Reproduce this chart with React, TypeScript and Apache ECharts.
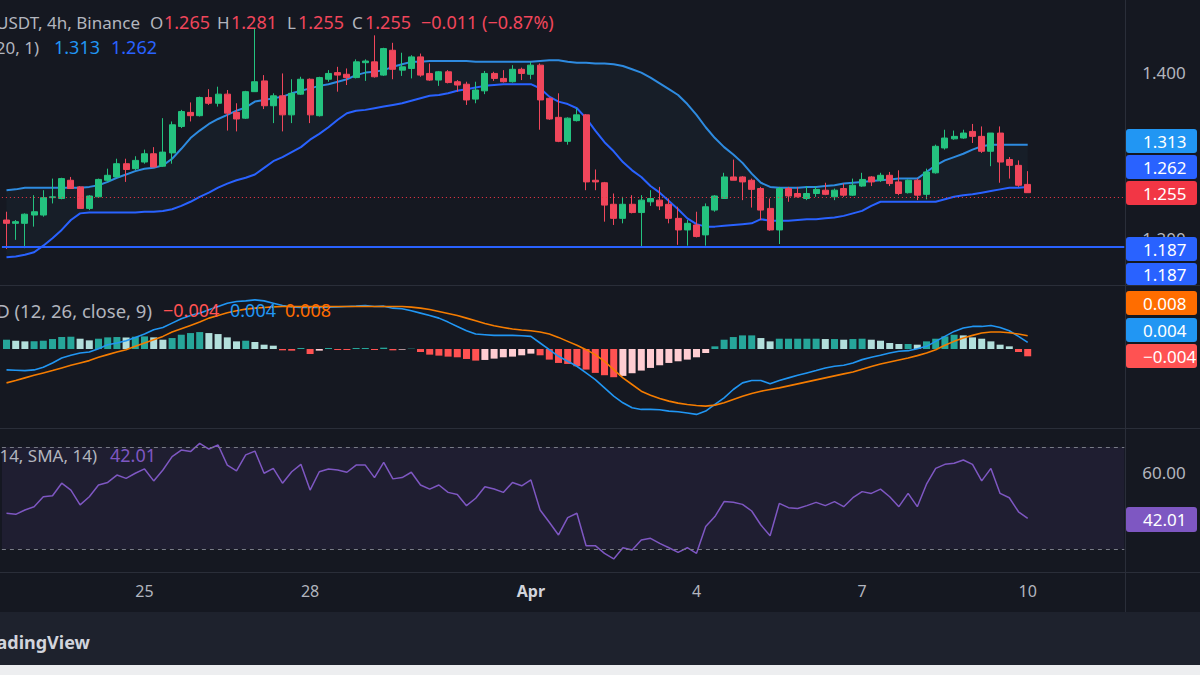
import React, { useEffect, useRef } from "react";
import * as echarts from "echarts";

const FONT = "'Noto Sans', 'DejaVu Sans', sans-serif";

// ---------- price candles (4h) ----------
const opens = [
  1.222, 1.218, 1.218, 1.228, 1.228, 1.249, 1.248, 1.270, 1.262, 1.236,
  1.250, 1.270, 1.274, 1.290, 1.284, 1.292, 1.302, 1.287, 1.303, 1.335,
  1.352, 1.348, 1.370, 1.363, 1.374, 1.352, 1.345, 1.377, 1.390, 1.360,
  1.372, 1.349, 1.374, 1.392, 1.348, 1.392, 1.400, 1.398, 1.394, 1.412,
  1.413, 1.397, 1.427, 1.403, 1.405, 1.419, 1.399, 1.391, 1.401, 1.389,
  1.386, 1.368, 1.378, 1.399, 1.393, 1.389, 1.404, 1.398, 1.409, 1.369,
  1.346, 1.317, 1.342, 1.349, 1.270, 1.267, 1.241, 1.224, 1.241, 1.231,
  1.244, 1.246, 1.241, 1.224, 1.210, 1.216, 1.204, 1.234, 1.248, 1.274,
  1.274, 1.270, 1.260, 1.236, 1.210, 1.260, 1.254, 1.248, 1.254, 1.258,
  1.250, 1.260, 1.252, 1.263, 1.274, 1.270, 1.276, 1.268, 1.255, 1.270,
  1.253, 1.279, 1.309, 1.320, 1.321, 1.329, 1.323, 1.305, 1.327, 1.295, 1.288, 1.265,
];
const highs = [
  1.232, 1.222, 1.230, 1.252, 1.258, 1.272, 1.273, 1.274, 1.263, 1.252,
  1.272, 1.284, 1.296, 1.296, 1.299, 1.307, 1.310, 1.345, 1.341, 1.355,
  1.364, 1.371, 1.380, 1.383, 1.379, 1.363, 1.378, 1.453, 1.397, 1.375,
  1.399, 1.392, 1.395, 1.393, 1.395, 1.403, 1.407, 1.405, 1.416, 1.416,
  1.445, 1.430, 1.436, 1.424, 1.421, 1.423, 1.411, 1.402, 1.403, 1.391,
  1.389, 1.389, 1.402, 1.401, 1.403, 1.409, 1.406, 1.413, 1.411, 1.370,
  1.375, 1.346, 1.357, 1.350, 1.283, 1.268, 1.254, 1.250, 1.252, 1.252,
  1.258, 1.262, 1.248, 1.238, 1.222, 1.232, 1.242, 1.252, 1.279, 1.295,
  1.275, 1.272, 1.262, 1.248, 1.262, 1.262, 1.262, 1.263, 1.263, 1.267,
  1.260, 1.266, 1.272, 1.279, 1.275, 1.279, 1.280, 1.282, 1.271, 1.272,
  1.284, 1.313, 1.331, 1.330, 1.331, 1.338, 1.335, 1.327, 1.335, 1.298, 1.294, 1.281,
];
const lows = [
  1.187, 1.198, 1.188, 1.214, 1.226, 1.242, 1.247, 1.260, 1.236, 1.234,
  1.249, 1.268, 1.274, 1.268, 1.282, 1.290, 1.286, 1.286, 1.290, 1.333,
  1.341, 1.347, 1.361, 1.359, 1.330, 1.329, 1.344, 1.377, 1.356, 1.339,
  1.329, 1.339, 1.373, 1.339, 1.347, 1.389, 1.377, 1.385, 1.393, 1.390,
  1.394, 1.396, 1.392, 1.396, 1.393, 1.395, 1.390, 1.384, 1.387, 1.377,
  1.361, 1.363, 1.374, 1.390, 1.388, 1.388, 1.391, 1.392, 1.331, 1.343,
  1.316, 1.313, 1.341, 1.258, 1.258, 1.220, 1.216, 1.218, 1.230, 1.190,
  1.239, 1.234, 1.218, 1.192, 1.191, 1.201, 1.191, 1.232, 1.248, 1.270,
  1.246, 1.237, 1.222, 1.209, 1.193, 1.244, 1.249, 1.246, 1.250, 1.252,
  1.246, 1.250, 1.251, 1.262, 1.263, 1.268, 1.263, 1.252, 1.254, 1.246,
  1.247, 1.278, 1.307, 1.319, 1.320, 1.315, 1.303, 1.287, 1.267, 1.272, 1.262, 1.255,
];
const closes = [
  1.218, 1.220, 1.229, 1.232, 1.249, 1.250, 1.272, 1.260, 1.236, 1.251,
  1.271, 1.276, 1.290, 1.283, 1.294, 1.302, 1.286, 1.304, 1.337, 1.353,
  1.348, 1.370, 1.363, 1.374, 1.351, 1.344, 1.377, 1.389, 1.360, 1.372,
  1.349, 1.375, 1.392, 1.349, 1.394, 1.399, 1.397, 1.394, 1.413, 1.414,
  1.395, 1.429, 1.404, 1.407, 1.419, 1.397, 1.391, 1.401, 1.388, 1.385,
  1.367, 1.379, 1.399, 1.393, 1.389, 1.404, 1.399, 1.409, 1.367, 1.344,
  1.317, 1.345, 1.349, 1.268, 1.268, 1.240, 1.224, 1.241, 1.231, 1.246,
  1.248, 1.239, 1.224, 1.210, 1.218, 1.202, 1.238, 1.251, 1.274, 1.270,
  1.268, 1.259, 1.234, 1.210, 1.260, 1.251, 1.250, 1.254, 1.259, 1.253,
  1.258, 1.252, 1.264, 1.271, 1.268, 1.276, 1.266, 1.254, 1.270, 1.252,
  1.280, 1.311, 1.321, 1.323, 1.327, 1.323, 1.305, 1.327, 1.292, 1.288, 1.264, 1.255,
];

// ---------- bands ----------
const bandUpper = [
  1.258, 1.259, 1.261, 1.261, 1.261, 1.261, 1.261, 1.261, 1.261, 1.262,
  1.264, 1.268, 1.273, 1.277, 1.281, 1.284, 1.285, 1.288, 1.296, 1.308,
  1.321, 1.330, 1.338, 1.344, 1.349, 1.354, 1.358, 1.365, 1.367, 1.369,
  1.371, 1.375, 1.378, 1.381, 1.384, 1.386, 1.389, 1.392, 1.397, 1.400,
  1.401, 1.403, 1.407, 1.410, 1.413, 1.413, 1.414, 1.414, 1.414, 1.414,
  1.414, 1.413, 1.413, 1.413, 1.413, 1.413, 1.413, 1.413, 1.414, 1.415,
  1.415, 1.413, 1.412, 1.412, 1.411, 1.411, 1.410, 1.408, 1.404, 1.400,
  1.394, 1.387, 1.380, 1.373, 1.362, 1.349, 1.334, 1.321, 1.310, 1.301,
  1.291, 1.278, 1.267, 1.262, 1.261, 1.261, 1.261, 1.262, 1.262, 1.263,
  1.264, 1.266, 1.267, 1.268, 1.269, 1.270, 1.271, 1.272, 1.272, 1.272,
  1.280, 1.288, 1.294, 1.298, 1.302, 1.307, 1.311, 1.313, 1.313, 1.313, 1.313, 1.313,
];
const bandLower = [
  1.177, 1.178, 1.180, 1.183, 1.191, 1.200, 1.210, 1.222, 1.230, 1.231,
  1.231, 1.231, 1.231, 1.231, 1.231, 1.232, 1.232, 1.233, 1.235, 1.239,
  1.244, 1.250, 1.255, 1.261, 1.266, 1.270, 1.273, 1.277, 1.285, 1.293,
  1.298, 1.304, 1.310, 1.319, 1.326, 1.334, 1.343, 1.351, 1.354, 1.355,
  1.357, 1.359, 1.361, 1.363, 1.366, 1.369, 1.372, 1.373, 1.375, 1.378,
  1.380, 1.382, 1.384, 1.385, 1.386, 1.386, 1.386, 1.386, 1.381, 1.371,
  1.365, 1.362, 1.357, 1.345, 1.330, 1.316, 1.305, 1.292, 1.282, 1.274,
  1.263, 1.255, 1.245, 1.235, 1.224, 1.217, 1.214, 1.214, 1.215, 1.216,
  1.217, 1.218, 1.223, 1.221, 1.221, 1.221, 1.222, 1.223, 1.223, 1.224,
  1.225, 1.227, 1.230, 1.233, 1.239, 1.244, 1.244, 1.244, 1.244, 1.244,
  1.244, 1.244, 1.247, 1.250, 1.252, 1.253, 1.255, 1.257, 1.259, 1.261, 1.261, 1.262,
];

// ---------- MACD (12, 26, close, 9) ----------
const macdLine = [
  -0.0126, -0.0128, -0.0130, -0.0126, -0.0110, -0.0084, -0.0054, -0.0038, -0.0024, -0.0018,
  0.0002, 0.0026, 0.0036, 0.0050, 0.0070, 0.0090, 0.0116, 0.0130, 0.0156, 0.0182,
  0.0202, 0.0216, 0.0236, 0.0256, 0.0276, 0.0286, 0.0290, 0.0296, 0.0290, 0.0276,
  0.0262, 0.0254, 0.0250, 0.0250, 0.0250, 0.0252, 0.0254, 0.0256, 0.0258, 0.0262,
  0.0256, 0.0258, 0.0246, 0.0242, 0.0230, 0.0216, 0.0202, 0.0186, 0.0162, 0.0136,
  0.0110, 0.0090, 0.0086, 0.0082, 0.0082, 0.0082, 0.0080, 0.0076, 0.0036, -0.0004,
  -0.0044, -0.0074, -0.0104, -0.0144, -0.0184, -0.0234, -0.0284, -0.0324, -0.0354, -0.0364,
  -0.0364, -0.0366, -0.0374, -0.0378, -0.0386, -0.0394, -0.0374, -0.0334, -0.0294, -0.0244,
  -0.0204, -0.0190, -0.0190, -0.0210, -0.0190, -0.0174, -0.0158, -0.0144, -0.0130, -0.0114,
  -0.0104, -0.0098, -0.0084, -0.0064, -0.0050, -0.0038, -0.0024, -0.0014, -0.0010, 0.0002,
  0.0016, 0.0046, 0.0076, 0.0106, 0.0126, 0.0136, 0.0136, 0.0142, 0.0130, 0.0110, 0.0076, 0.0040,
];
const signalLine = [
  -0.0204, -0.0190, -0.0174, -0.0158, -0.0144, -0.0130, -0.0114, -0.0098, -0.0084, -0.0070,
  -0.0050, -0.0034, -0.0018, -0.0004, 0.0016, 0.0036, 0.0056, 0.0076, 0.0102, 0.0122,
  0.0142, 0.0162, 0.0186, 0.0202, 0.0218, 0.0230, 0.0240, 0.0246, 0.0250, 0.0254,
  0.0256, 0.0256, 0.0256, 0.0256, 0.0256, 0.0256, 0.0256, 0.0256, 0.0256, 0.0256,
  0.0256, 0.0256, 0.0256, 0.0256, 0.0252, 0.0246, 0.0238, 0.0226, 0.0214, 0.0202,
  0.0186, 0.0170, 0.0154, 0.0140, 0.0130, 0.0120, 0.0114, 0.0110, 0.0102, 0.0090,
  0.0070, 0.0046, 0.0022, -0.0004, -0.0034, -0.0074, -0.0124, -0.0174, -0.0214, -0.0254,
  -0.0278, -0.0298, -0.0314, -0.0326, -0.0334, -0.0340, -0.0344, -0.0338, -0.0324, -0.0304,
  -0.0284, -0.0268, -0.0254, -0.0244, -0.0234, -0.0222, -0.0210, -0.0198, -0.0186, -0.0174,
  -0.0162, -0.0150, -0.0138, -0.0122, -0.0106, -0.0090, -0.0078, -0.0066, -0.0054, -0.0040,
  -0.0024, -0.0004, 0.0022, 0.0046, 0.0066, 0.0082, 0.0096, 0.0102, 0.0102, 0.0098, 0.0090, 0.0080,
];
const macdHist = [
  0.0056, 0.0050, 0.0046, 0.0046, 0.0050, 0.0060, 0.0072, 0.0074, 0.0062, 0.0052,
  0.0062, 0.0070, 0.0072, 0.0070, 0.0074, 0.0076, 0.0070, 0.0056, 0.0066, 0.0086,
  0.0096, 0.0102, 0.0096, 0.0090, 0.0070, 0.0046, 0.0050, 0.0042, 0.0026, 0.0020,
  -0.0008, -0.0010, 0.0006, -0.0030, -0.0010, 0.0006, -0.0006, -0.0006, 0.0006, 0.0006,
  -0.0006, 0.0008, -0.0008, -0.0004, 0.0002, -0.0018, -0.0034, -0.0040, -0.0046, -0.0050,
  -0.0060, -0.0070, -0.0066, -0.0058, -0.0050, -0.0046, -0.0038, -0.0028, -0.0038, -0.0064,
  -0.0084, -0.0090, -0.0104, -0.0124, -0.0144, -0.0158, -0.0170, -0.0162, -0.0146, -0.0130,
  -0.0114, -0.0098, -0.0084, -0.0074, -0.0064, -0.0050, -0.0024, 0.0016, 0.0056, 0.0072,
  0.0082, 0.0082, 0.0066, 0.0046, 0.0062, 0.0062, 0.0062, 0.0062, 0.0062, 0.0060,
  0.0060, 0.0056, 0.0060, 0.0062, 0.0056, 0.0050, 0.0036, 0.0030, 0.0030, 0.0026,
  0.0046, 0.0062, 0.0076, 0.0086, 0.0082, 0.0070, 0.0062, 0.0046, 0.0026, 0.0016, -0.0018, -0.0044,
];

// ---------- RSI (14) ----------
const rsiValues = [
  44.0, 43.6, 45.3, 46.6, 50.5, 50.9, 55.8, 53.1, 47.3, 50.5,
  55.1, 56.1, 59.0, 57.7, 59.7, 61.4, 56.7, 61.0, 66.2, 68.8,
  68.2, 71.4, 69.2, 70.8, 62.9, 60.6, 66.9, 68.4, 59.7, 61.6,
  55.8, 60.3, 63.2, 53.1, 60.3, 61.4, 61.0, 60.1, 62.9, 62.9,
  58.0, 64.0, 57.5, 58.0, 60.1, 55.1, 53.5, 55.1, 52.2, 51.4,
  47.0, 49.9, 54.4, 53.5, 52.2, 56.1, 54.8, 57.1, 45.3, 40.5,
  35.5, 42.3, 44.0, 31.3, 31.3, 28.3, 26.1, 30.5, 29.6, 33.5,
  34.2, 32.2, 30.5, 28.7, 30.5, 28.3, 38.8, 42.7, 48.6, 48.3,
  47.5, 44.9, 39.4, 35.2, 47.9, 46.2, 45.9, 47.0, 48.3, 47.0,
  48.6, 46.6, 50.1, 52.5, 51.8, 53.5, 50.5, 46.6, 51.8, 46.6,
  55.4, 61.6, 63.2, 63.6, 64.9, 63.2, 56.7, 61.6, 51.8, 50.1, 44.6, 42.01,
];

// ---------- axes / labels ----------
const xTickIndex = [15, 33, 57, 75, 93, 111];
const xTickLabels = ["25", "28", "Apr", "4", "7", "10"];
const priceTicks = [1.2, 1.4];
const rsiTicks = [60];
const rsiBands = [70, 30];
const supportLevel = 1.187;
const slotCount = 122; // candles + empty future space
const symbolText = "USDT, 4h, Binance";
const bandTitle = "BB (20, 1)";
const macdTitle = "MACD (12, 26, close, 9)";
const rsiTitle = "RSI (14, SMA, 14)";
const changeText = "\u22120.011 (\u22120.87%)";

const startTime = Date.UTC(2024, 2, 22, 12);
const categories = Array.from({ length: slotCount }, (_, i) => {
  const d = new Date(startTime + i * 4 * 3600 * 1000);
  return `${d.getUTCMonth() + 1}/${d.getUTCDate()} ${d.getUTCHours()}:00`;
});

const UP = "#24C27F";
const DOWN = "#F0465B";
const GRAY = "#B2B5BE";
const BG = "#151821";
const SEP = "#2A2E39";

const fmt = (v: number, d = 3) => (v < 0 ? "\u2212" : "") + Math.abs(v).toFixed(d);
const last = opens.length - 1;

const histColor = (i: number) => {
  const v = macdHist[i];
  const p = i > 0 ? macdHist[i - 1] : v;
  if (v >= 0) return v >= p ? "#26A69A" : "#B2DFDB";
  return v <= p ? "#FF5252" : "#FFCDD2";
};

const txt = (x: number, y: number, text: string, fill: string, size = 17, align = "left", weight = "normal") => ({
  type: "text",
  x,
  y,
  z: 100,
  silent: true,
  style: {
    text,
    fill,
    font: `${weight} ${size}px ${FONT}`,
    textAlign: align,
    textVerticalAlign: "middle",
    verticalAlign: "middle",
  },
});

const tag = (top: number, h: number, fill: string, text: string) => [
  {
    type: "rect",
    z: 90,
    silent: true,
    shape: { x: 1126, y: top, width: 71, height: h, r: 3 },
    style: { fill },
  },
  txt(1143, top + h / 2, text, "#FFFFFF", 17),
];

export default function App() {
  const ref = useRef<HTMLDivElement>(null);

  useEffect(() => {
    if (!ref.current) return;
    const chart = echarts.init(ref.current, undefined, { renderer: "svg", width: 1200, height: 675 });

    const gridLeft = 1.9;
    const gridWidth = 1122.4;

    const xAxes = [0, 1, 2].map((g) => ({
      type: "category",
      gridIndex: g,
      data: categories,
      boundaryGap: true,
      axisLine: { show: false },
      axisTick: { show: false },
      splitLine: { show: false },
      axisLabel:
        g === 2
          ? {
              show: true,
              interval: (index: number) => xTickIndex.includes(index),
              formatter: (_v: string, index: number) => {
                const k = xTickIndex.indexOf(index);
                if (k < 0) return "";
                const s = xTickLabels[k];
                return s === "Apr" ? `{b|${s}}` : s;
              },
              color: GRAY,
              fontSize: 16,
              fontFamily: FONT,
              margin: 11,
              rich: { b: { color: "#D1D4DC", fontSize: 16, fontFamily: FONT, fontWeight: "bold" } },
            }
          : { show: false },
    }));

    const graphic: any[] = [
      // pane separators
      { type: "line", z: 80, silent: true, shape: { x1: 0, y1: 285.5, x2: 1200, y2: 285.5 }, style: { stroke: SEP, lineWidth: 1 } },
      { type: "line", z: 80, silent: true, shape: { x1: 0, y1: 428.5, x2: 1200, y2: 428.5 }, style: { stroke: SEP, lineWidth: 1 } },
      { type: "line", z: 80, silent: true, shape: { x1: 0, y1: 572.5, x2: 1200, y2: 572.5 }, style: { stroke: SEP, lineWidth: 1 } },
      { type: "line", z: 80, silent: true, shape: { x1: 1125.5, y1: 0, x2: 1125.5, y2: 612 }, style: { stroke: SEP, lineWidth: 1 } },
      // footer
      { type: "rect", z: 80, silent: true, shape: { x: 0, y: 612, width: 1200, height: 53 }, style: { fill: "#1E222D" } },
      { type: "rect", z: 80, silent: true, shape: { x: 0, y: 665, width: 1200, height: 10 }, style: { fill: "#EDEEF0" } },
      txt(90, 642, "TradingView", "#D1D4DC", 18, "right", "bold"),
      // header line 1
      txt(-4, 22, symbolText, GRAY, 17),
      txt(150, 22, "O", GRAY, 17),
      txt(164, 22, opens[last].toFixed(3), DOWN, 18),
      txt(217, 22, "H", GRAY, 17),
      txt(231, 22, highs[last].toFixed(3), DOWN, 18),
      txt(287, 22, "L", GRAY, 17),
      txt(298, 22, lows[last].toFixed(3), DOWN, 18),
      txt(352, 22, "C", GRAY, 17),
      txt(365, 22, closes[last].toFixed(3), DOWN, 18),
      txt(421, 22, changeText, DOWN, 18),
      // header line 2
      txt(39, 47, bandTitle, GRAY, 17, "right"),
      txt(54, 47, bandUpper[last].toFixed(3), "#2196F3", 18),
      txt(111, 47, bandLower[last].toFixed(3), "#2962FF", 18),
      // macd header
      txt(152, 310, macdTitle, GRAY, 18.5, "right"),
      txt(163, 310, fmt(macdHist[last]), "#FF5252", 18),
      txt(230, 310, fmt(macdLine[last]), "#2196F3", 18),
      txt(285, 310, fmt(signalLine[last]), "#FF6D00", 18),
      // rsi header
      txt(97, 455, rsiTitle, GRAY, 17, "right"),
      txt(110, 455, rsiValues[last].toFixed(2), "#7E57C2", 18),
      // price scale tags
      ...tag(129, 24, "#2196F3", bandUpper[last].toFixed(3)),
      ...tag(155, 24, "#2962FF", bandLower[last].toFixed(3)),
      ...tag(181, 24, "#F23645", closes[last].toFixed(3)),
      ...tag(237, 24, "#2962FF", supportLevel.toFixed(3)),
      ...tag(263, 22, "#2962FF", supportLevel.toFixed(3)),
      ...tag(291, 24, "#FF6D00", fmt(signalLine[last])),
      ...tag(318, 24, "#2196F3", fmt(macdLine[last])),
      ...tag(344, 24, "#FF5252", fmt(macdHist[last])),
      ...tag(507, 25, "#7E57C2", rsiValues[last].toFixed(2)),
    ];

    const option: any = {
      animation: false,
      backgroundColor: BG,
      grid: [
        { left: gridLeft, top: 0, width: gridWidth, height: 285 },
        { left: gridLeft, top: 286, width: gridWidth, height: 142 },
        { left: gridLeft, top: 429, width: gridWidth, height: 143 },
      ],
      xAxis: xAxes,
      yAxis: [
        {
          type: "value",
          gridIndex: 0,
          position: "right",
          min: 1.1435,
          max: 1.4877,
          axisLine: { show: false },
          axisTick: { show: false },
          splitLine: { show: false },
          axisLabel: {
            customValues: priceTicks,
            formatter: (v: number) => v.toFixed(3),
            color: GRAY,
            fontSize: 17,
            fontFamily: FONT,
            margin: 18,
          },
        },
        {
          type: "value",
          gridIndex: 1,
          position: "right",
          min: -0.04759,
          max: 0.03795,
          axisLine: { show: false },
          axisTick: { show: false },
          splitLine: { show: false },
          axisLabel: { show: false },
        },
        {
          type: "value",
          gridIndex: 2,
          position: "right",
          min: 20.98,
          max: 77.06,
          axisLine: { show: false },
          axisTick: { show: false },
          splitLine: { show: false },
          axisLabel: {
            customValues: rsiTicks,
            formatter: (v: number) => v.toFixed(2),
            color: GRAY,
            fontSize: 17,
            fontFamily: FONT,
            margin: 18,
          },
        },
      ],
      series: [
        {
          type: "line",
          xAxisIndex: 0,
          yAxisIndex: 0,
          data: bandLower,
          stack: "band",
          symbol: "none",
          lineStyle: { color: "#2962FF", width: 2 },
          z: 2,
        },
        {
          type: "line",
          xAxisIndex: 0,
          yAxisIndex: 0,
          data: bandUpper.map((u, i) => u - bandLower[i]),
          stack: "band",
          symbol: "none",
          lineStyle: { width: 0, opacity: 0 },
          areaStyle: { color: "rgba(70,160,190,0.07)" },
          z: 1,
        },
        {
          type: "line",
          xAxisIndex: 0,
          yAxisIndex: 0,
          data: bandUpper,
          symbol: "none",
          lineStyle: { color: "#2E8BE0", width: 2 },
          z: 2,
        },
        {
          type: "candlestick",
          xAxisIndex: 0,
          yAxisIndex: 0,
          data: opens.map((o, i) => [o, closes[i], lows[i], highs[i]]),
          barWidth: 6.5,
          itemStyle: { color: UP, color0: DOWN, borderColor: UP, borderColor0: DOWN, borderWidth: 1 },
          z: 3,
          markLine: {
            silent: true,
            symbol: ["none", "none"],
            label: { show: false },
            data: [
              { yAxis: supportLevel, lineStyle: { color: "#2962FF", width: 2, type: "solid" } },
              { yAxis: closes[last], lineStyle: { color: "#F23645", width: 1, type: [1, 3] } },
            ],
          },
        },
        {
          type: "bar",
          xAxisIndex: 1,
          yAxisIndex: 1,
          data: macdHist.map((v, i) => ({ value: v, itemStyle: { color: histColor(i) } })),
          barWidth: 7,
        },
        {
          type: "line",
          xAxisIndex: 1,
          yAxisIndex: 1,
          data: macdLine,
          symbol: "none",
          lineStyle: { color: "#2196F3", width: 1.6 },
        },
        {
          type: "line",
          xAxisIndex: 1,
          yAxisIndex: 1,
          data: signalLine,
          symbol: "none",
          lineStyle: { color: "#F57C00", width: 1.6 },
        },
        {
          type: "line",
          xAxisIndex: 2,
          yAxisIndex: 2,
          data: rsiValues,
          symbol: "none",
          lineStyle: { color: "#7E57C2", width: 1.5 },
          markArea: {
            silent: true,
            itemStyle: { color: "rgba(126,87,194,0.10)" },
            data: [[{ yAxis: rsiBands[0] }, { yAxis: rsiBands[1] }]],
          },
          markLine: {
            silent: true,
            symbol: ["none", "none"],
            label: { show: false },
            lineStyle: { color: "#787B86", width: 1, type: [4, 4] },
            data: rsiBands.map((v) => ({ yAxis: v })),
          },
        },
      ],
      graphic,
    };

    chart.setOption(option);
    return () => chart.dispose();
  }, []);

  return <div ref={ref} style={{ position: "fixed", left: 0, top: 0, width: 1200, height: 675 }} />;
}
